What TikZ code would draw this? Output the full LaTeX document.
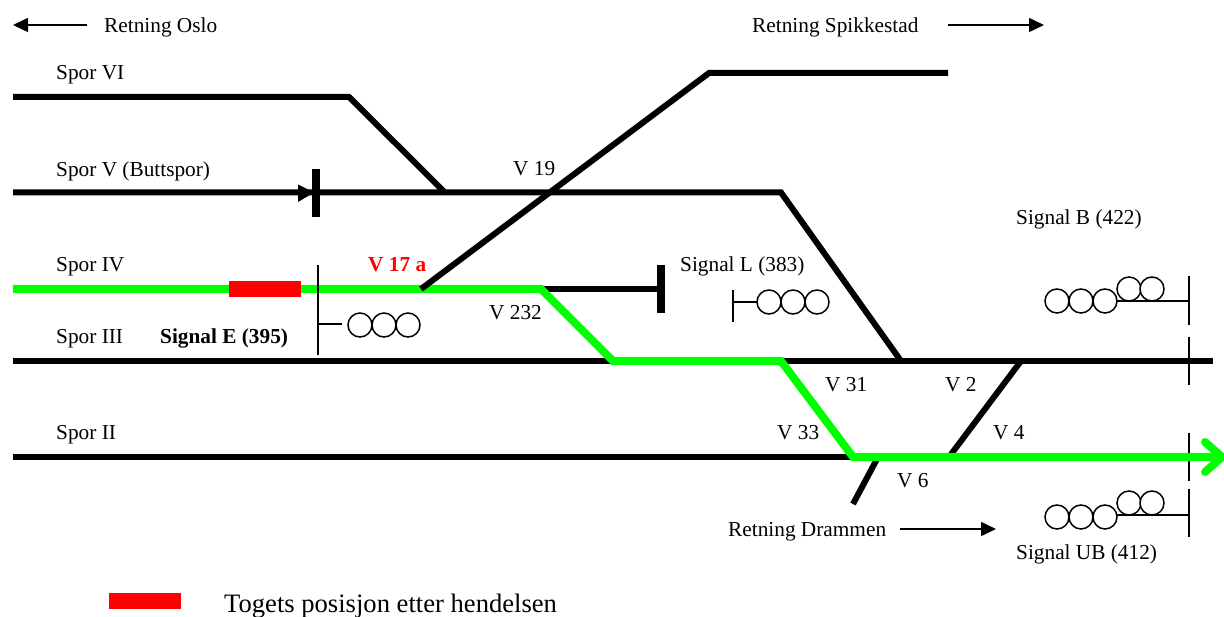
\documentclass[tikz,border=0pt]{standalone}
\usepackage{fontspec}
\setmainfont{Liberation Serif}
\usetikzlibrary{arrows.meta}
\definecolor{sgreen}{RGB}{0,255,0}
\definecolor{sred}{RGB}{255,0,0}
\tikzset{
  trk/.style={line width=6pt,black},
  grnd/.style={line width=8pt,sgreen},
  thin line/.style={line width=1.5pt,black},
  lamp/.style={circle,draw=black,line width=1.5pt,minimum size=24pt,inner sep=0pt,fill=white},
  lbl/.style={anchor=base west,inner sep=0pt,font=\fontsize{21.3}{23}\selectfont},
  lblb/.style={anchor=base west,inner sep=0pt,font=\fontsize{21.3}{23}\selectfont\bfseries},
  train/.style={fill=sred,draw=none,inner sep=0pt}
}
\begin{document}
\begin{tikzpicture}[x=1pt,y=-1pt]
\useasboundingbox (0,0) rectangle (1224,617);
% track points
\coordinate (a1) at (13,97); \coordinate (a2) at (349,97); \coordinate (a3) at (445,192.5);
\coordinate (b1) at (13,192.5); \coordinate (b2) at (781,192.5); \coordinate (b3) at (901,361);
\coordinate (c0) at (421,289); \coordinate (c1) at (709,73); \coordinate (c2) at (948,73);
\coordinate (d1) at (13,289); \coordinate (d2) at (541,289); \coordinate (d3) at (613,361);
\coordinate (d4) at (661,289); \coordinate (d5) at (781,361);
\coordinate (d6) at (853,457);
\coordinate (e1) at (13,361); \coordinate (e2) at (1213,361);
\coordinate (f1) at (13,457); \coordinate (f2) at (1222,457);
\coordinate (g1) at (1021,361); \coordinate (g2) at (949,457);
\coordinate (h1) at (877,459); \coordinate (h2) at (853,504);
% black tracks
\draw[trk] (a1) -- (a2) -- (a3);
\draw[trk] (b1) -- (b2) -- (b3);
\draw[trk] (e1) -- (e2);
\draw[trk] (f1) -- (d6);
\draw[trk] (g1) -- (g2);
\draw[trk] (h1) -- (h2);
\draw[trk] (d2) -- (d4);
\draw[line width=8pt] (661,265) -- (661,313);
% mast under the green route
\draw[thin line] (1189,433) -- (1189,481);
% green route
\draw[grnd] (d1) -- (d2) -- (d3) -- (d5) -- (d6) -- (f2);
\draw[line width=8pt,sgreen,line cap=round] (1205,442) -- (f2) -- (1205,472);
\draw[trk] (c0) -- (c1) -- (c2);
% stop at Spor V
\draw[line width=8pt] (316,169) -- (316,217);
\fill (298,184.5) -- (314,192.5) -- (298,202) -- cycle;
% train
\node[train,minimum width=72pt,minimum height=16pt] (tr) at (265,289) {};
% signal E
\draw[thin line] (318,265) -- (318,355);
\draw[thin line] (318,324) -- (342,324);
\node[lamp] (e1l) at (360,325) {}; \node[lamp] (e2l) at (384,325) {}; \node[lamp] (e3l) at (408,325) {};
% signal L
\draw[thin line] (733,290) -- (733,322);
\draw[thin line] (733,302) -- (757,302);
\node[lamp] (l1) at (769,302) {}; \node[lamp] (l2) at (793,302) {}; \node[lamp] (l3) at (817,302) {};
% signal B
\draw[thin line] (1189,276) -- (1189,325);
\draw[thin line] (1189,337) -- (1189,385);
\draw[thin line] (1117,301) -- (1189,301);
\node[lamp] (b1l) at (1057,301) {}; \node[lamp] (b2l) at (1081,301) {}; \node[lamp] (b3l) at (1105,301) {};
\node[lamp] (b4l) at (1129,289) {}; \node[lamp] (b5l) at (1152,289) {};
% signal UB
\draw[thin line] (1189,489) -- (1189,537);
\draw[thin line] (1117,515) -- (1189,515);
\node[lamp] (u1l) at (1057,517) {}; \node[lamp] (u2l) at (1081,517) {}; \node[lamp] (u3l) at (1105,517) {};
\node[lamp] (u4l) at (1129,503) {}; \node[lamp] (u5l) at (1152,503) {};
% direction arrows
\coordinate (ar1a) at (87,25); \coordinate (ar1b) at (13,25);
\coordinate (ar2a) at (948,25); \coordinate (ar2b) at (1044,25);
\coordinate (ar3a) at (900,529); \coordinate (ar3b) at (996,529);
\foreach \p/\q in {ar1a/ar1b,ar2a/ar2b,ar3a/ar3b}
  \draw[thin line,-{Triangle[length=15pt,width=14pt]}] (\p) -- (\q);
% labels
\node[lbl] (t1) at (104,33) {Retning Oslo};
\node[lbl] (t2) at (752,33) {Retning Spikkestad};
\node[lbl] (t3) at (56,80) {Spor VI};
\node[lbl] (t4) at (56,177) {Spor V (Buttspor)};
\node[lbl] (t5) at (513,176) {V 19};
\node[lbl] (t6) at (1016,225) {Signal B (422)};
\node[lbl] (t7) at (56,272) {Spor IV};
\node[lblb,text=sred] (t8) at (368,272) {V 17 a};
\node[lbl] (t9) at (680,272) {Signal L (383)};
\node[lbl] (t10) at (489,320) {V 232};
\node[lbl] (t11) at (56,344) {Spor III};
\node[lblb] (t12) at (160,344) {Signal E (395)};
\node[lbl] (t13) at (825,392) {V 31};
\node[lbl] (t14) at (945,392) {V 2};
\node[lbl] (t15) at (56,439) {Spor II};
\node[lbl] (t16) at (777,439) {V 33};
\node[lbl] (t17) at (993,439) {V 4};
\node[lbl] (t18) at (897,487) {V 6};
\node[lbl] (t19) at (728,536) {Retning Drammen};
\node[lbl] (t20) at (1016,559) {Signal UB (412)};
\node[lbl,font=\fontsize{26.6}{28}\selectfont] (t21) at (224,612) {Togets posisjon etter hendelsen};
\node[train,minimum width=72pt,minimum height=16pt] (leg) at (145,601) {};
\end{tikzpicture}
\end{document}
